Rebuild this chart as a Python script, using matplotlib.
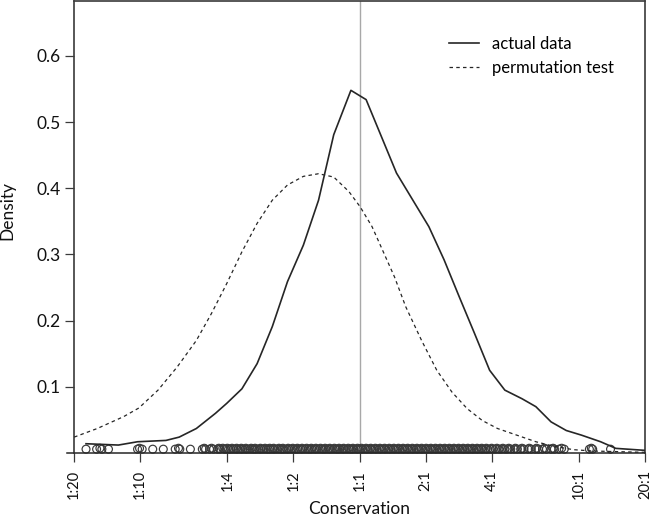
import numpy as np
import matplotlib
matplotlib.use("Agg")
import matplotlib.pyplot as plt

plt.rcParams['font.family'] = ['Lato', 'DejaVu Sans']

# x values are log2(ratio)
actual_x = [-4.14, -3.65, -3.36, -2.93, -2.73, -2.47, -2.18, -2.01, -1.78, -1.55,
            -1.32, -1.09, -0.85, -0.62, -0.39, -0.13, 0.10, 0.56, 1.05, 1.28,
            1.51, 1.74, 1.97, 2.20, 2.46, 2.67, 2.90, 3.13, 3.36, 3.65,
            3.88, 4.32]
actual_y = [0.014, 0.012, 0.017, 0.019, 0.024, 0.037, 0.060, 0.075, 0.097, 0.135,
            0.191, 0.259, 0.314, 0.382, 0.481, 0.548, 0.534, 0.423, 0.342, 0.292,
            0.236, 0.181, 0.125, 0.095, 0.082, 0.070, 0.047, 0.034, 0.027, 0.017,
            0.007, 0.004]

perm_x = [-4.32, -3.97, -3.57, -3.34, -3.05, -2.76, -2.47, -2.24, -2.01, -1.78,
          -1.55, -1.32, -1.09, -0.85, -0.62, -0.39, -0.16, 0.01, 0.19, 0.36,
          0.53, 0.70, 0.94, 1.17, 1.40, 1.63, 1.86, 2.09, 2.38, 2.67,
          2.95, 3.24, 3.53, 4.32]
perm_y = [0.024, 0.037, 0.055, 0.068, 0.095, 0.130, 0.170, 0.211, 0.256, 0.304,
          0.347, 0.382, 0.405, 0.418, 0.422, 0.417, 0.395, 0.372, 0.342, 0.304,
          0.266, 0.221, 0.170, 0.125, 0.092, 0.067, 0.049, 0.037, 0.027, 0.017,
          0.010, 0.005, 0.003, 0.001]

# observed values (rug), two jittered rows
rug_x = [-4.14, -3.98, -3.90, -3.80, -3.36, -3.29, -3.13, -2.97, -2.79, -2.72,
         -2.56, -2.38, -2.33, -2.27, -2.21, -2.15, -2.11,
         -2.05, -2.02, -1.98, -1.95, -1.91, -1.87, -1.84, -1.80, -1.77, -1.73,
         -1.70, -1.66, -1.62, -1.59, -1.56, -1.52, -1.49, -1.45, -1.41, -1.38,
         -1.35, -1.31, -1.28, -1.24, -1.20, -1.17, -1.14, -1.10, -1.07, -1.03,
         -0.99, -0.96, -0.93, -0.89, -0.86, -0.82, -0.78, -0.75, -0.72, -0.68,
         -0.65, -0.61, -0.57, -0.54, -0.51, -0.47, -0.44, -0.40, -0.36, -0.33,
         -0.30, -0.26, -0.23, -0.19, -0.15, -0.12, -0.09, -0.05, -0.02, 0.02,
         0.05, 0.09, 0.12, 0.16, 0.19, 0.23, 0.26, 0.30, 0.33, 0.37,
         0.40, 0.44, 0.47, 0.51, 0.54, 0.58, 0.61, 0.65, 0.68, 0.72,
         0.75, 0.79, 0.82, 0.86, 0.89, 0.93, 0.96, 1.00, 1.03, 1.07,
         1.10, 1.14, 1.17, 1.21, 1.24, 1.28, 1.31, 1.35, 1.38, 1.42,
         1.45, 1.49, 1.52, 1.56, 1.59, 1.63, 1.66, 1.70, 1.73, 1.77,
         1.80, 1.84, 1.87, 1.91, 1.94, 1.98, 2.02, 2.06, 2.11, 2.15,
         2.20, 2.24, 2.29, 2.34, 2.39, 2.44, 2.49, 2.55, 2.60, 2.66,
         2.71, 2.77, 2.83, 2.90, 2.95, 3.02, 3.10, 3.48, 3.53, 3.80]
rug_x2 = [-3.93, -3.33, -2.74, -2.35, -2.24, -2.13,
          -2.07, -2.00, -1.93, -1.86, -1.79, -1.72, -1.64, -1.58, -1.50, -1.43,
          -1.36, -1.30, -1.22, -1.16, -1.08, -1.01, -0.94, -0.87, -0.80, -0.73,
          -0.66, -0.59, -0.52, -0.45, -0.38, -0.31, -0.24, -0.17, -0.10, -0.03,
          0.03, 0.10, 0.17, 0.24, 0.31, 0.38, 0.45, 0.52, 0.59, 0.66,
          0.73, 0.80, 0.87, 0.94, 1.01, 1.08, 1.15, 1.22, 1.29, 1.36,
          1.43, 1.50, 1.57, 1.64, 1.71, 1.78, 1.85, 1.92, 2.00, 2.08,
          2.17, 2.26, 2.36, 2.46, 2.57, 2.68, 2.80, 2.93, 3.06, 3.51]

tick_labels = ['1:20', '1:10', '1:4', '1:2', '1:1', '2:1', '4:1', '10:1', '20:1']
tick_ratios = [1/20, 1/10, 1/4, 1/2, 1, 2, 4, 10, 20]

ink = '#262626'

fig = plt.figure(figsize=(6.52, 5.25), dpi=100)
ax = fig.add_axes([74/652, 1 - 453/525, 571/652, 452/525])

ax.axvline(0, color='#a8a8a8', lw=1.0, zorder=1)
ax.plot(actual_x, actual_y, color=ink, lw=1.2, label='actual data', zorder=3)
ax.plot(perm_x, perm_y, color=ink, lw=0.9, ls=(0, (2.8, 2.6)), label='permutation test', zorder=3)
ax.scatter(rug_x, [0.0058] * len(rug_x), s=32, facecolors='none', edgecolors='#3a3a3a',
           linewidths=0.85, clip_on=False, zorder=2)
ax.scatter(rug_x2, [0.0072] * len(rug_x2), s=32, facecolors='none', edgecolors='#3a3a3a',
           linewidths=0.85, clip_on=False, zorder=2)
ax.axhline(0, xmin=-0.013, xmax=1, color=ink, lw=1.1, clip_on=False, zorder=4)

lim = np.log2(20)
ax.set_xlim(-lim, lim)
ax.set_ylim(0, 0.683)

ax.set_xticks(np.log2(tick_ratios))
ax.set_xticklabels(tick_labels, rotation=90)
ax.set_yticks([0.1, 0.2, 0.3, 0.4, 0.5, 0.6])
ax.set_yticklabels(['0.1', '0.2', '0.3', '0.4', '0.5', '0.6'])

ax.spines['bottom'].set_visible(False)
for s in ['left', 'right', 'top']:
    ax.spines[s].set_color('#3a3a3a')
    ax.spines[s].set_linewidth(1.2)

ax.tick_params(axis='both', direction='out', length=6.5, width=0.9, color='#3a3a3a',
               labelcolor='#111111')
ax.tick_params(axis='x', pad=6, labelsize=10.5)
ax.tick_params(axis='y', pad=3, labelsize=12.5)

ax.set_xlabel('Conservation', fontsize=12.5, color='#111111')
ax.xaxis.set_label_coords(0.5, -0.106)
ax.set_ylabel('Density', fontsize=12.5, color='#111111')
ax.yaxis.set_label_coords(-0.103, 0.537)

ax.legend(loc='upper left', bbox_to_anchor=(0.657, 0.923), frameon=False, fontsize=12,
          handlelength=1.8, handletextpad=0.8, labelspacing=0.5, borderpad=0, borderaxespad=0)

fig.savefig('out.png', dpi=100)
